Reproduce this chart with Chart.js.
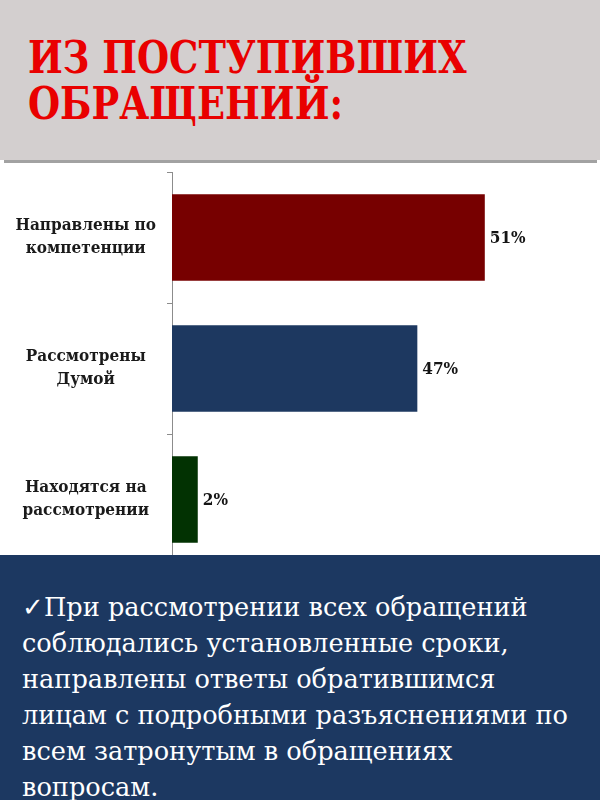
<!DOCTYPE html>
<html lang="ru">
<head>
<meta charset="utf-8">
<script src="https://cdn.jsdelivr.net/npm/chart.js@4.4.1/dist/chart.umd.min.js"></script>
<style>
  html, body { margin: 0; padding: 0; }
  body { width: 600px; height: 800px; position: relative; overflow: hidden; background: #fff; }
  #header {
    position: absolute; left: 0; top: 0; width: 600px; height: 160px;
    background: #d3cfcf;
  }
  #header-line {
    position: absolute; left: 4px; top: 160px; width: 593px; height: 3px;
    background: #a2a2a2;
  }
  #title {
    position: absolute; left: 28px; top: 35px; margin: 0;
    font-family: 'DejaVu Serif Condensed', 'DejaVu Serif', serif;
    font-weight: bold; font-size: 45px; line-height: 46px;
    color: #e90000; white-space: nowrap;
    transform: scaleX(0.91); transform-origin: 0 0;
  }
  #chart-box { position: absolute; left: 0; top: 160px; width: 600px; height: 405px; }
  #panel {
    position: absolute; left: 0; top: 555px; width: 600px; height: 245px;
    background: #1c3861; color: #fff;
    font-family: 'DejaVu Serif', serif;
    font-size: 25.6px; line-height: 36px;
  }
  #panel p { margin: 0; position: absolute; left: 22px; top: 34px; white-space: nowrap; }
</style>
</head>
<body>
<div id="header"><h1 id="title">ИЗ ПОСТУПИВШИХ<br>ОБРАЩЕНИЙ:</h1></div>
<div id="header-line"></div>
<div id="chart-box"><canvas id="myChart"></canvas></div>
<div id="panel">
  <p>✓При рассмотрении всех обращений<br>соблюдались установленные сроки,<br>направлены ответы обратившимся<br>лицам с подробными разъяснениями по<br>всем затронутым в обращениях<br>вопросам.</p>
</div>
<script>
'use strict';

// categories (multi-line labels as in the slide)
let categories = [
  ['Направлены по', 'компетенции'],
  ['Рассмотрены', 'Думой'],
  ['Находятся на', 'рассмотрении']
];

// bar lengths as drawn on the slide (the slide does not draw them to scale)
let barValues = [51, 40, 4.2];

// printed value labels
let valueLabels = ['51%', '47%', '2%'];

let barColors = ['#770000', '#1d3860', '#023202'];

const serif = "'DejaVu Serif Condensed', 'DejaVu Serif', serif";

// simple label plugin - writes the printed % next to each bar
const valueLabelPlugin = {
  id: 'valueLabels',
  afterDatasetsDraw(chart) {
    const ctx = chart.ctx;
    const meta = chart.getDatasetMeta(0);
    ctx.save();
    ctx.font = 'bold 17px ' + serif;
    ctx.fillStyle = '#151515';
    ctx.textAlign = 'left';
    ctx.textBaseline = 'middle';
    meta.data.forEach(function (bar, i) {
      ctx.fillText(valueLabels[i], bar.x + 5, bar.y + 1);
    });
    ctx.restore();
  }
};

const ctx = document.getElementById('myChart').getContext('2d');

const chartObj = {
  type: 'bar',
  data: {
    labels: categories,
    datasets: [{
      data: barValues,
      backgroundColor: barColors,
      borderWidth: 0,
      barPercentage: 0.66,
      categoryPercentage: 1
    }]
  },
  options: {
    indexAxis: 'y',
    responsive: true,
    maintainAspectRatio: false,
    animation: false,
    layout: { padding: { top: 12, right: 60, bottom: 0, left: 0 } },
    plugins: {
      legend: { display: false },
      tooltip: { enabled: false }
    },
    scales: {
      x: {
        display: false,
        min: 0,
        max: 60
      },
      y: {
        afterFit(scale) {
          // fixed axis width, and no extra room for the two-line labels
          scale.width = 172;
          scale.paddingTop = 0;
          scale.paddingBottom = 0;
        },
        border: { display: true, color: '#8c8c8c', width: 1 },
        grid: {
          offset: true,
          drawOnChartArea: false,
          drawTicks: true,
          tickLength: 5,
          color: '#8c8c8c'
        },
        ticks: {
          crossAlign: 'center',
          padding: 11,
          color: '#1a1a1a',
          font: { family: serif, weight: 'bold', size: 17, lineHeight: 1.35 }
        }
      }
    }
  },
  plugins: [valueLabelPlugin]
};

const myChart = new Chart(ctx, chartObj); // eslint-disable-line
</script>
</body>
</html>
